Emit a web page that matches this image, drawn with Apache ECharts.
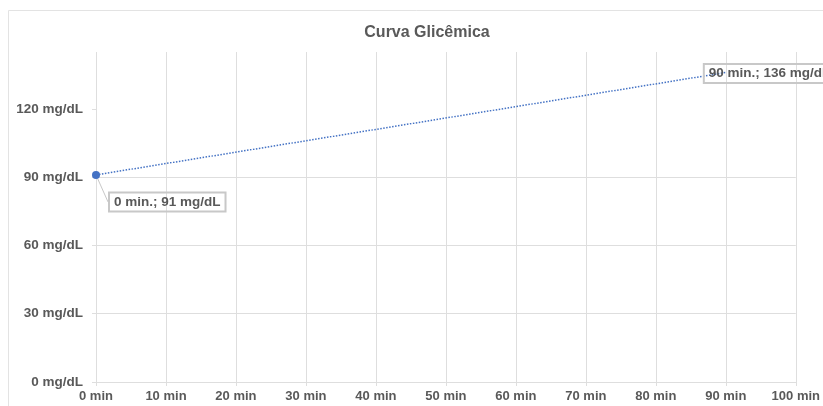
<!DOCTYPE html>
<html>
<head>
<meta charset="utf-8">
<title>Curva Glicêmica</title>
<script src="https://cdn.jsdelivr.net/npm/echarts@6/dist/echarts.min.js"></script>
<style>
  html, body { margin: 0; padding: 0; background: #ffffff; overflow: hidden; }
  #chart { width: 823px; height: 406px; }
</style>
</head>
<body>
<div id="chart"></div>
<script>
// Glucose readings: time since start (min) and blood glucose (mg/dL)
const timesMin = [0, 90];
const glucose = [91, 136];

// Axis tick values
const xTickValues = [0, 10, 20, 30, 40, 50, 60, 70, 80, 90, 100];
const yTickValues = [0, 30, 60, 90, 120];

const TEXT = '#595959';
const GRID = '#dedede';
const BLUE = '#4472C4';
const FONT = '"Liberation Sans", Arial, Helvetica, sans-serif';

const points = timesMin.map((t, i) => ({
  value: [t, glucose[i]],
  symbolSize: i === 0 ? 8 : 0,
  labelLine: { show: i === 0 }
}));

const chart = echarts.init(document.getElementById('chart'), null, { renderer: 'canvas' });

chart.setOption({
  backgroundColor: '#ffffff',
  animation: false,
  textStyle: { fontFamily: FONT },
  title: {
    text: 'Curva Glicêmica',
    left: 422,
    textAlign: 'center',
    top: 20,
    textStyle: { fontSize: 16, fontWeight: 'bold', color: TEXT, fontFamily: FONT }
  },
  graphic: [{
    type: 'rect',
    silent: true,
    z: -10,
    shape: { x: 8.5, y: 10.5, width: 900, height: 500 },
    style: { fill: 'none', stroke: '#e3e3e3', lineWidth: 1 }
  }],
  grid: { left: 96, right: 26, top: 52, bottom: 24, containLabel: false },
  xAxis: {
    type: 'value',
    min: 0,
    max: 100,
    interval: 10,
    axisLine: { show: true, onZero: false, lineStyle: { color: GRID, width: 1 } },
    axisTick: { show: true, length: 4, lineStyle: { color: GRID } },
    splitLine: { show: true, lineStyle: { color: GRID, width: 1 } },
    axisLabel: {
      customValues: xTickValues,
      formatter: '{value} min',
      color: TEXT,
      fontSize: 13,
      fontWeight: 'bold',
      fontFamily: FONT,
      margin: 8
    }
  },
  yAxis: {
    type: 'value',
    min: 0,
    max: 145,
    interval: 30,
    axisLine: { show: false },
    axisTick: { show: true, length: 4, customValues: yTickValues, lineStyle: { color: GRID } },
    splitLine: { show: true, showMinLine: false, showMaxLine: false, lineStyle: { color: GRID, width: 1 } },
    axisLabel: {
      customValues: yTickValues,
      formatter: '{value} mg/dL',
      color: TEXT,
      fontSize: 13.5,
      fontWeight: 'bold',
      fontFamily: FONT,
      margin: 13
    }
  },
  series: [{
    type: 'line',
    data: points,
    symbol: 'circle',
    itemStyle: { color: BLUE },
    lineStyle: { color: BLUE, width: 1.5, type: [1.5, 1.5] },
    label: {
      show: true,
      position: 'right',
      distance: 5,
      formatter: p => p.value[0] + ' min.; ' + p.value[1] + ' mg/dL',
      color: TEXT,
      fontSize: 13.5,
      fontWeight: 'bold',
      fontFamily: FONT,
      backgroundColor: 'transparent',
      borderColor: '#c8c8c8',
      borderWidth: 1,
      padding: [3, 5, 2, 5]
    },
    labelLine: { show: true, lineStyle: { color: '#c8c8c8', width: 1 } },
    labelLayout: p => (p.dataIndex === 0 ? { dx: 4, dy: 27 } : { dx: -27, dy: 1 })
  }]
});
</script>
</body>
</html>
